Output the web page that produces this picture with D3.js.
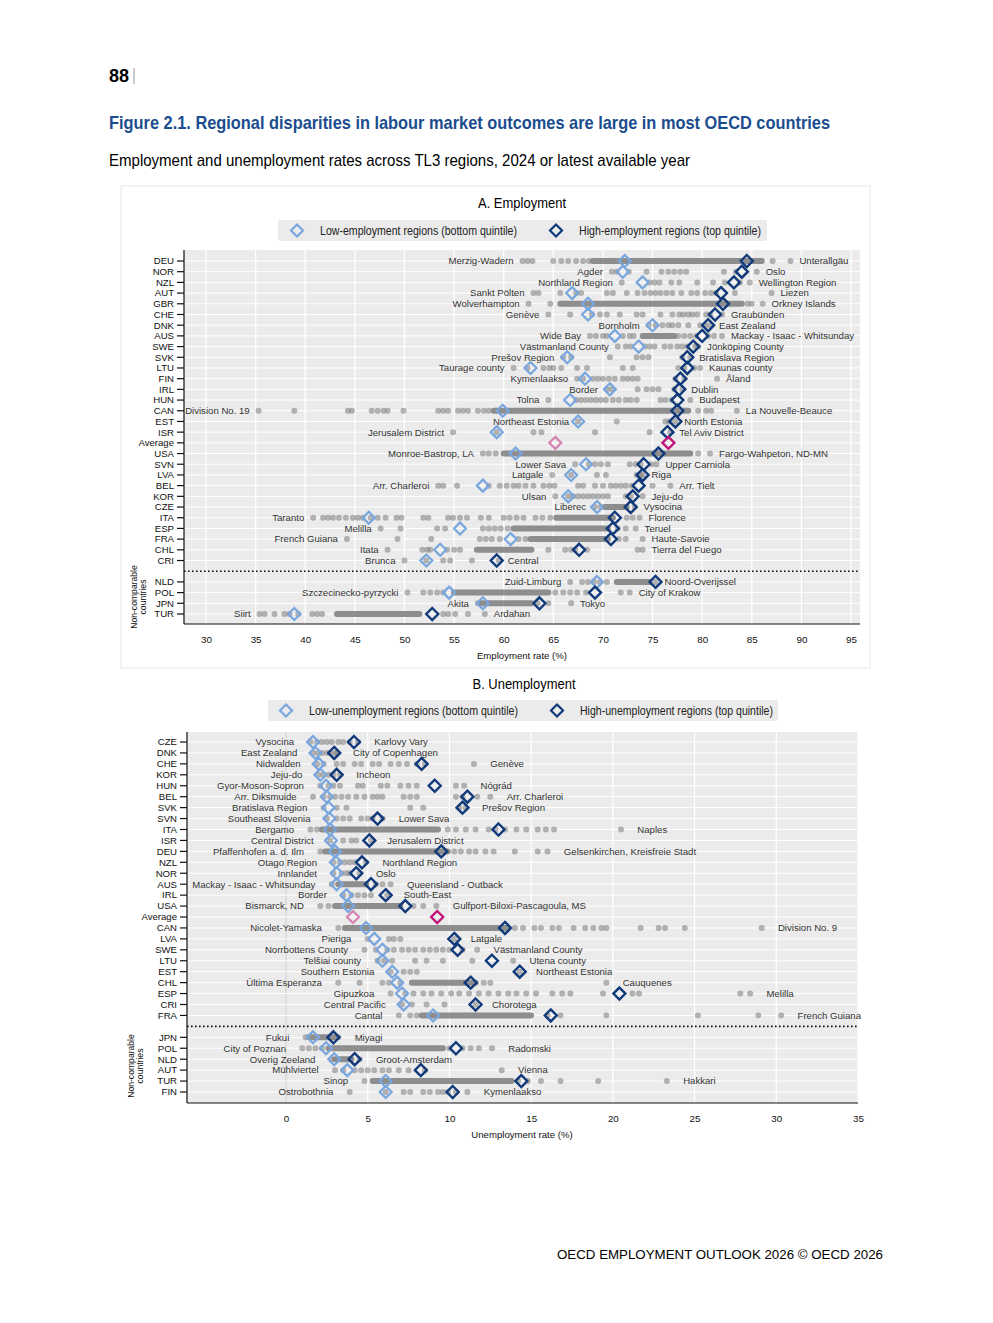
<!DOCTYPE html>
<html>
<head>
<meta charset="utf-8">
<script src="https://cdn.jsdelivr.net/npm/d3@7"></script>
<style>
  body { margin: 0; background: #fff; }
  text { font-family: "Liberation Sans Narrow", "Arial Narrow", "Liberation Sans", Arial, sans-serif; }
</style>
</head>
<body>
<script>
// ---------- Panel A: employment ----------
var empTicks = ["DEU","NOR","NZL","AUT","GBR","CHE","DNK","AUS","SWE","SVK","LTU","FIN","IRL","HUN","CAN","EST","ISR","Average",
  "USA","SVN","LVA","BEL","KOR","CZE","ITA","ESP","FRA","CHL","CRI","","NLD","POL","JPN","TUR"];
var empCountries = ["DEU","NOR","NZL","AUT","GBR","CHE","DNK","AUS","SWE","SVK","LTU","FIN","IRL","HUN","CAN","EST","ISR",
  "USA","SVN","LVA","BEL","KOR","CZE","ITA","ESP","FRA","CHL","CRI","NLD","POL","JPN","TUR"];
var empMinName = ["Merzig-Wadern","Agder","Northland Region","Sankt Pölten","Wolverhampton","Genève","Bornholm","Wide Bay",
  "Västmanland County","Prešov Region","Taurage county","Kymenlaakso","Border","Tolna","Division No. 19","Northeast Estonia",
  "Jerusalem District","Monroe-Bastrop, LA","Lower Sava","Latgale","Arr. Charleroi","Ulsan","Liberec","Taranto","Melilla",
  "French Guiana","Itata","Brunca","Zuid-Limburg","Szczecinecko-pyrzycki","Akita","Siirt"];
var empMaxName = ["Unterallgäu","Oslo","Wellington Region","Liezen","Orkney Islands","Graubünden","East Zealand",
  "Mackay - Isaac - Whitsunday","Jönköping County","Bratislava Region","Kaunas county","Åland","Dublin","Budapest",
  "La Nouvelle-Beauce","North Estonia","Tel Aviv District","Fargo-Wahpeton, ND-MN","Upper Carniola","Riga","Arr. Tielt",
  "Jeju-do","Vysocina","Florence","Teruel","Haute-Savoie","Tierra del Fuego","Central","Noord-Overijssel","City of Krakow",
  "Tokyo","Ardahan"];
var empMin  = [61.9,70.9,71.9,63.0,62.5,64.5,74.6,68.7,71.5,66.0,61.0,67.4,70.4,64.5,35.3,67.5,54.9,57.9,67.2,64.9,53.4,65.2,69.2,40.8,47.6,44.2,48.3,50.0,66.7,50.3,57.4,35.4];
var empMax  = [88.9,85.5,84.8,87.0,86.1,82.0,80.8,82.0,79.6,78.8,79.8,81.5,78.0,78.8,83.5,77.3,76.8,80.8,75.4,74.0,76.8,74.0,73.2,73.7,73.3,74.0,74.0,59.5,75.3,72.7,66.8,58.1];
var empLow  = [72.2,72.0,74.0,66.9,68.5,68.5,75.0,71.2,73.6,66.4,62.7,68.2,70.7,66.7,59.9,67.5,59.3,61.2,68.3,66.8,57.9,66.5,69.4,46.4,55.6,60.7,53.6,52.2,69.4,54.5,57.9,38.9];
var empHigh = [84.5,84.0,83.2,81.9,82.1,81.3,80.6,80.0,79.1,78.5,78.5,77.8,77.7,77.5,77.5,77.3,76.5,75.6,74.1,74.0,73.6,73.0,72.8,71.2,71.0,70.8,67.6,59.3,75.3,69.2,63.6,52.8];
var empDots = [
  [62.4,62.9,65.0,65.8,66.5,67.3,68.0,68.6,87.1],
  [71.4,72.6,74.4,75.9,76.6,77.2,77.8,78.4,82.2,83.4],
  [74.7,75.2,75.7,76.9,77.7,79.5,81.1,82.3,83.8],
  [63.5,65.7,67.3,67.8,70.4,71.0,72.4,73.5,74.2,74.8,75.3,75.8,76.4,77.0,77.9,78.9,79.5,80.3,80.9,81.4,83.3],
  [64.7,84.6,85.0],
  [66.7,68.9,69.7,70.4,71.7,73.4,74.0,75.8,77.0,77.7,78.1,78.6,79.0,79.5,80.4,80.8],
  [75.3,76.0,76.6,77.0,77.6,78.6,79.8,80.3],
  [69.3,70.0,70.4,72.0,72.7,73.1,77.6,78.2,78.8,79.4,80.6,81.2],
  [72.3,72.8,74.2,74.7,75.2,76.2,76.8,77.5,78.0,78.5,79.3],
  [66.8,70.7,73.4,74.0,74.6,78.0],
  [62.4,64.0,64.6,65.0,65.8,67.4,68.4,72.0,73.0,77.6,78.2,79.2],
  [68.0,69.0,69.5,70.0,70.6,71.2,72.0,72.5,73.0,73.5,77.3,78.2],
  [70.9,73.5,74.4,75.0,75.6,77.2],
  [67.3,67.8,68.3,68.8,69.3,69.8,70.3,71.0,71.6,72.3,72.8,73.4,75.8,76.3,76.9],
  [38.9,44.3,44.7,46.7,47.3,47.9,48.3,49.9,53.4,53.9,54.4,55.4,55.9,56.4,57.4,58.0,58.5,79.6,80.4,80.9],
  [71.4,76.3,76.7],
  [59.3,63.0,63.8,69.2,74.7],
  [58.5,59.2,79.6],
  [68.6,69.2,69.8,70.5,72.7,73.3,73.8,74.9],
  [66.8,69.4,70.3,73.4,73.8],
  [53.9,55.3,58.5,59.6,60.3,61.0,61.5,62.2,63.0,64.0,64.6,65.1,67.5,68.0,69.2,70.0,70.8,71.3,71.8,72.3,72.9,75.0],
  [66.5,67.0,67.5,68.0,68.5,69.0,69.5,70.0,70.5,72.3,72.8],
  [69.8],
  [41.8,42.3,42.8,43.4,44.1,44.8,45.3,45.8,46.6,47.3,48.1,49.2,49.7,51.9,52.4,54.4,54.9,55.6,56.3,57.7,58.5,60.0,60.6,61.3,62.0,63.2,63.9,64.7,72.4,73.0],
  [49.6,53.3,54.1,57.9,58.5,59.1,59.7,60.4,71.5,72.3],
  [49.3,52.7,57.6,58.2,58.8,59.6,61.5,62.2,71.6,72.3],
  [51.8,52.3,52.6,54.3,55.0,55.6,64.5,66.2,66.8,67.2,68.4,73.5],
  [52.2,53.9,54.6,56.8],
  [67.9,68.5,69.1,69.7,70.4],
  [51.9,52.6,53.3,53.9,65.2,66.0,66.7,67.4,68.3,71.8],
  [63.4,64.5],
  [35.9,36.9,37.9,38.4,39.3,40.7,41.2,41.7,53.9,54.4,55.1,56.4]
];
// runs of overlapping regions, drawn as a thick bar
var empBands = {DEU:[69.0,86.0],GBR:[65.7,84.0],AUS:[74.0,77.2],CAN:[59.0,78.6],USA:[60.0,78.8],CZE:[70.2,72.4],
  ITA:[65.3,71.0],ESP:[61.0,70.5],FRA:[62.7,70.5],CHL:[57.3,62.8],NLD:[71.4,74.7],POL:[55.0,64.5],JPN:[57.8,62.8],TUR:[43.2,51.5]};
var empAverage = [65.2, 76.6];
var empXTicks = [30,35,40,45,50,55,60,65,70,75,80,85,90,95];

// ---------- Panel B: unemployment ----------
var unTicks = ["CZE","DNK","CHE","KOR","HUN","BEL","SVK","SVN","ITA","ISR","DEU","NZL","NOR","AUS","IRL","USA","Average",
  "CAN","LVA","SWE","LTU","EST","CHL","ESP","CRI","FRA","","JPN","POL","NLD","AUT","TUR","FIN"];
var unCountries = ["CZE","DNK","CHE","KOR","HUN","BEL","SVK","SVN","ITA","ISR","DEU","NZL","NOR","AUS","IRL","USA",
  "CAN","LVA","SWE","LTU","EST","CHL","ESP","CRI","FRA","JPN","POL","NLD","AUT","TUR","FIN"];
var unMinName = ["Vysocina","East Zealand","Nidwalden","Jeju-do","Gyor-Moson-Sopron","Arr. Diksmuide","Bratislava Region",
  "Southeast Slovenia","Bergamo","Central District","Pfaffenhofen a. d. Ilm","Otago Region","Innlandet",
  "Mackay - Isaac - Whitsunday","Border","Bismarck, ND","Nicolet-Yamaska","Pieriga","Norrbottens County","Telšiai county",
  "Southern Estonia","Última Esperanza","Gipuzkoa","Central Pacific","Cantal","Fukui","City of Poznan","Overig Zeeland",
  "Mühlviertel","Sinop","Ostrobothnia"];
var unMaxName = ["Karlovy Vary","City of Copenhagen","Genève","Incheon","Nógrád","Arr. Charleroi","Prešov Region","Lower Sava",
  "Naples","Jerusalem District","Gelsenkirchen, Kreisfreie Stadt","Northland Region","Oslo","Queensland - Outback","South-East",
  "Gulfport-Biloxi-Pascagoula, MS","Division No. 9","Latgale","Västmanland County","Utena county","Northeast Estonia",
  "Cauquenes","Melilla","Chorotega","French Guiana","Miyagi","Radomski","Groot-Amsterdam","Vienna","Hakkari","Kymenlaakso"];
var unMin  = [1.5,1.7,1.9,2.0,2.1,1.65,2.3,2.5,1.5,2.7,2.1,2.9,2.9,2.8,3.5,2.1,3.2,5.0,4.8,5.6,6.4,3.2,6.4,7.1,6.9,1.2,1.0,2.8,3.0,4.8,3.9];
var unMax  = [4.4,3.1,11.5,3.3,10.9,12.5,11.0,5.9,20.5,5.2,16.0,4.9,4.5,6.4,6.2,9.2,29.1,10.3,11.7,13.9,14.3,19.6,28.4,11.6,30.3,3.2,12.6,4.5,13.2,23.3,11.1];
var unLow  = [1.65,1.8,2.0,2.1,2.45,2.5,2.6,2.65,2.7,2.75,3.0,3.05,3.1,3.1,3.7,3.8,4.9,5.4,5.9,5.9,6.5,6.8,7.1,7.2,9.0,1.65,2.45,2.95,3.75,6.1,6.1];
var unHigh = [4.16,2.95,8.3,3.1,9.1,11.1,10.8,5.6,13.0,5.1,9.5,4.65,4.3,5.2,6.1,7.3,13.4,10.3,10.5,12.6,14.3,11.3,20.4,11.6,16.2,2.9,10.4,4.2,8.25,14.4,10.2];
var unDots = [
  [1.9,2.2,2.5,2.8,3.2,3.5,3.9],
  [2.0,2.2,2.5,2.7,3.0],
  [2.3,3.1,3.5,4.2,4.6,5.3,5.7,6.4,6.9,7.4,8.0,8.5],
  [2.3,2.6,2.9],
  [2.6,2.9,3.3,4.4,4.7,5.8,6.2,7.0,7.5,8.0,10.4],
  [2.3,2.7,3.0,3.4,3.8,4.3,4.8,5.3,5.6,5.9,7.2,7.6,8.0,10.4,10.8,11.7],
  [3.1,3.7,7.6,8.4,10.6],
  [3.1,3.5,3.9,4.6,5.0,5.3],
  [1.9,9.9,10.4,11.0,11.6,12.4,12.8,13.4,14.1,14.7,15.4,15.9,16.4],
  [3.5,4.0,4.3],
  [10.3,10.7,11.2,11.6,12.2,12.7,14.0,15.4],
  [3.3,3.6,3.9,4.2],
  [3.4,3.7,3.9],
  [5.5,5.9],
  [4.0,4.4,4.8,5.2],
  [2.6,7.8,8.4],
  [14.0,14.5,15.2,15.6,16.3,16.7,17.6,18.3,18.8,19.3,19.6,21.7,22.8,23.2,24.4],
  [6.3,6.6,7.0],
  [5.5,6.2,6.6,7.1,7.5,7.9,8.4,8.8,9.2,9.6,10.0,10.8],
  [6.0,6.5,7.9,8.6,9.6,11.4],
  [7.2,7.6,8.0],
  [4.5,5.9,6.3,7.0,12.1,12.5],
  [7.3,7.8,8.4,8.9,9.5,10.1,10.6,11.2,11.8,12.4,13.0,13.6,14.1,14.7,15.3,16.3,16.9,17.4,19.4,21.2,21.6,27.8],
  [7.7,8.6,9.7],
  [7.6,8.0,16.0,16.8,19.6,25.2,28.9],
  [],
  [1.4,1.8,2.2,10.0,10.8,11.3,11.8],
  [],
  [3.5,4.2,4.6,5.0,5.4,5.9,6.3,6.9,7.5,8.5],
  [14.2,14.8,15.6,16.8,19.1],
  [6.1,7.2,7.6,8.4,8.8,9.3,9.6,9.9,10.4]
];
var unBands = {ITA:[2.2,9.3],DEU:[2.4,9.9],AUS:[3.2,4.9],USA:[3.0,7.0],CAN:[3.6,13.6],CHL:[7.7,11.6],FRA:[8.3,15.0],
  JPN:[1.4,3.0],POL:[2.6,9.6],NLD:[3.0,4.0],TUR:[5.3,13.8]};
var unAverage = [4.1, 9.25];
var unXTicks = [0,5,10,15,20,25,30,35];

var lightBlue = "#78a6de", darkBlue = "#113a7a", lightPink = "#d683b3", magenta = "#c0167c";
var dotColor = "#858585";
var diamond = "M0,-6L6,0L0,6L-6,0Z";
var small = "9.6px";

var svg = d3.select("body").append("svg")
  .attr("width", 993)
  .attr("height", 1323);

// page texts
svg.append("text").attr("x", 109).attr("y", 82)
  .style("font-size", "18px").style("font-weight", "bold").text("88");
svg.append("line").attr("x1", 134).attr("x2", 134).attr("y1", 68).attr("y2", 84)
  .attr("stroke", "#999").attr("stroke-width", 1);
svg.append("text").attr("x", 109).attr("y", 129)
  .attr("textLength", 721).attr("lengthAdjust", "spacingAndGlyphs")
  .style("font-size", "19px").style("font-weight", "bold").style("fill", "#1b4d8e")
  .text("Figure 2.1. Regional disparities in labour market outcomes are large in most OECD countries");
svg.append("text").attr("x", 109).attr("y", 166)
  .attr("textLength", 581).attr("lengthAdjust", "spacingAndGlyphs")
  .style("font-size", "17px")
  .text("Employment and unemployment rates across TL3 regions, 2024 or latest available year");
svg.append("text").attr("x", 883).attr("y", 1259).attr("text-anchor", "end")
  .attr("textLength", 326).attr("lengthAdjust", "spacingAndGlyphs")
  .style("font-family", "'Liberation Sans', Arial, sans-serif").style("font-size", "13px")
  .text("OECD EMPLOYMENT OUTLOOK 2026 © OECD 2026");

// faint frame round panel A
svg.append("rect").attr("x", 121).attr("y", 186).attr("width", 749).attr("height", 482)
  .attr("fill", "none").attr("stroke", "#e6e6e6");

function drawPanel(p) {
  var g = svg.append("g");
  var keys = p.ticks.map(function(d) { return d === "" ? "gap" : d; });
  var x = d3.scaleLinear().domain(p.domain).range(p.xRange);
  var y = d3.scalePoint().domain(keys).range(p.yRange);

  // title + legend
  g.append("text").attr("x", p.titleX).attr("y", p.titleY).attr("text-anchor", "middle")
    .attr("textLength", p.titleW).attr("lengthAdjust", "spacingAndGlyphs")
    .style("font-size", "15px").text(p.title);
  var lg = p.legend;
  g.append("rect").attr("x", lg.x).attr("y", lg.y).attr("width", lg.w).attr("height", 21).attr("rx", 2)
    .attr("fill", "#ebebeb");
  [0, 1].forEach(function(i) {
    g.append("path").attr("d", diamond)
      .attr("transform", "translate(" + lg.dx[i] + "," + (lg.y + 10.5) + ")")
      .attr("fill", "none").attr("stroke", i ? darkBlue : lightBlue).attr("stroke-width", 2.2);
    g.append("text").attr("x", lg.tx[i]).attr("y", lg.y + 14.5)
      .attr("textLength", lg.tw[i]).attr("lengthAdjust", "spacingAndGlyphs")
      .style("font-size", "12px").style("fill", "#222").text(lg.labels[i]);
  });

  // plot background and grid
  g.append("rect").attr("x", p.x0).attr("y", p.top).attr("width", p.x1 - p.x0).attr("height", p.bottom - p.top)
    .attr("fill", "#ebebeb");
  g.selectAll(".vgrid").data(p.xTicks).enter().append("line")
    .attr("x1", function(d) { return x(d); }).attr("x2", function(d) { return x(d); })
    .attr("y1", p.top).attr("y2", p.bottom)
    .attr("stroke", function(d) { return d === 0 ? "#d6d6d6" : "#fff"; }).attr("stroke-width", 1.3);
  g.selectAll(".hgrid").data(keys.filter(function(k) { return k !== "gap"; })).enter().append("line")
    .attr("x1", p.x0).attr("x2", p.x1)
    .attr("y1", function(d) { return y(d); }).attr("y2", function(d) { return y(d); })
    .attr("stroke", "#fff").attr("stroke-width", 1);
  g.append("line").attr("x1", p.x0).attr("x2", p.x1).attr("y1", y("gap")).attr("y2", y("gap"))
    .attr("stroke", "#111").attr("stroke-width", 1.6).attr("stroke-dasharray", "1.6,2.4");

  // regions
  p.countries.forEach(function(c, i) {
    var cy = y(c);
    var b = p.bands[c];
    if (b) {
      g.append("line").attr("x1", x(b[0])).attr("x2", x(b[1])).attr("y1", cy).attr("y2", cy)
        .attr("stroke", "#7d7d7d").attr("stroke-width", 6).attr("stroke-linecap", "round").attr("opacity", 0.85);
    }
    var vals = p.dots[i].concat([p.min[i], p.max[i]]);
    g.selectAll(null).data(vals).enter().append("circle")
      .attr("cx", function(d) { return x(d); }).attr("cy", cy).attr("r", 3)
      .attr("fill", dotColor).attr("opacity", 0.6);
  });
  p.countries.forEach(function(c, i) {
    var cy = y(c);
    g.append("path").attr("d", diamond).attr("transform", "translate(" + x(p.low[i]) + "," + cy + ")")
      .attr("fill", "none").attr("stroke", lightBlue).attr("stroke-width", 2.2);
    g.append("path").attr("d", diamond).attr("transform", "translate(" + x(p.high[i]) + "," + cy + ")")
      .attr("fill", "none").attr("stroke", darkBlue).attr("stroke-width", 2.4);
    g.append("text").attr("x", x(p.min[i] - p.off)).attr("y", cy).attr("dy", "0.35em").attr("text-anchor", "end")
      .style("font-size", small).style("fill", "#333").text(p.minName[i]);
    g.append("text").attr("x", x(p.max[i] + p.off)).attr("y", cy).attr("dy", "0.35em")
      .style("font-size", small).style("fill", "#333").text(p.maxName[i]);
  });
  g.append("path").attr("d", diamond).attr("transform", "translate(" + x(p.avg[0]) + "," + y("Average") + ")")
    .attr("fill", "none").attr("stroke", lightPink).attr("stroke-width", 2.2);
  g.append("path").attr("d", diamond).attr("transform", "translate(" + x(p.avg[1]) + "," + y("Average") + ")")
    .attr("fill", "none").attr("stroke", magenta).attr("stroke-width", 2.4);

  // y axis
  g.append("line").attr("x1", p.x0).attr("x2", p.x0).attr("y1", p.top).attr("y2", p.bottom)
    .attr("stroke", "#111").attr("stroke-width", 1.2);
  var rows = keys.filter(function(k) { return k !== "gap"; });
  g.selectAll(".ytick").data(rows).enter().append("line")
    .attr("x1", p.x0 - 7).attr("x2", p.x0)
    .attr("y1", function(d) { return y(d); }).attr("y2", function(d) { return y(d); })
    .attr("stroke", "#111").attr("stroke-width", 1.2);
  g.selectAll(".ylab").data(rows).enter().append("text")
    .attr("x", p.x0 - 10).attr("y", function(d) { return y(d); }).attr("dy", "0.35em")
    .attr("text-anchor", "end").style("font-size", small).style("fill", "#111")
    .text(function(d) { return d; });
  var nc = g.append("text").attr("transform", "translate(" + p.ncX + "," + p.ncY + ") rotate(-90)")
    .attr("text-anchor", "middle").style("font-size", "8.6px").style("fill", "#111");
  nc.append("tspan").attr("x", 0).attr("dy", 0).text("Non-comparable");
  nc.append("tspan").attr("x", 0).attr("dy", "1.05em").text("countries");

  // x axis
  g.append("line").attr("x1", p.x0).attr("x2", p.x1).attr("y1", p.bottom).attr("y2", p.bottom)
    .attr("stroke", "#111").attr("stroke-width", 1.2);
  var ax = g.append("g").attr("transform", "translate(0," + p.bottom + ")")
    .call(d3.axisBottom(x).tickValues(p.xTicks).tickSize(0).tickPadding(12));
  ax.select(".domain").remove();
  ax.selectAll("text").style("font-size", "9.8px").style("font-family", null).style("fill", "#111");
  g.append("text").attr("x", 522).attr("y", p.bottom + 35).attr("text-anchor", "middle")
    .style("font-size", small).style("fill", "#111").text(p.axisTitle);
}

drawPanel({
  ticks: empTicks, countries: empCountries, minName: empMinName, maxName: empMaxName,
  min: empMin, max: empMax, low: empLow, high: empHigh, dots: empDots, bands: empBands, avg: empAverage,
  xTicks: empXTicks, domain: [30, 95], xRange: [206, 851], yRange: [261, 614],
  x0: 184, x1: 860, top: 250, bottom: 624, off: 0.9,
  title: "A. Employment", titleX: 522, titleY: 208, titleW: 88,
  legend: { x: 278, y: 220, w: 489, dx: [297, 556], tx: [320, 579], tw: [197, 182],
    labels: ["Low-employment regions (bottom quintile)", "High-employment regions (top quintile)"] },
  ncX: 137, ncY: 597, axisTitle: "Employment rate (%)"
});

drawPanel({
  ticks: unTicks, countries: unCountries, minName: unMinName, maxName: unMaxName,
  min: unMin, max: unMax, low: unLow, high: unHigh, dots: unDots, bands: unBands, avg: unAverage,
  xTicks: unXTicks, domain: [0, 35], xRange: [286, 858], yRange: [742, 1092],
  x0: 187, x1: 858, top: 732, bottom: 1103, off: 1.0,
  title: "B. Unemployment", titleX: 524, titleY: 689, titleW: 103,
  legend: { x: 268, y: 700, w: 510, dx: [286, 557], tx: [309, 580], tw: [209, 193],
    labels: ["Low-unemployment regions (bottom quintile)", "High-unemployment regions (top quintile)"] },
  ncX: 134, ncY: 1066, axisTitle: "Unemployment rate (%)"
});
</script>
</body>
</html>
